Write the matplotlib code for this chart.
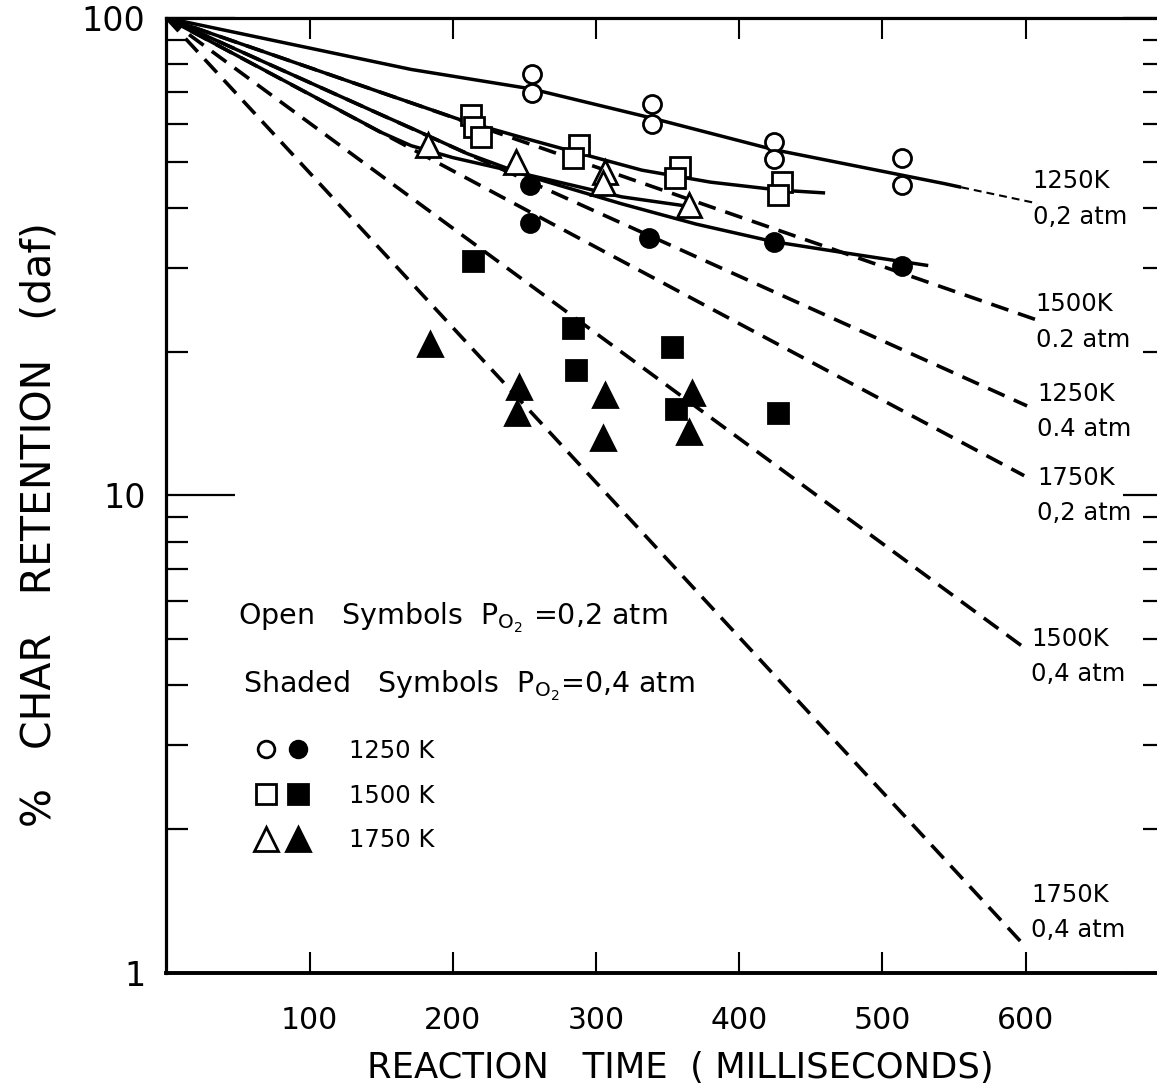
import matplotlib
matplotlib.use('Agg')
import matplotlib.pyplot as plt
from matplotlib.lines import Line2D
from matplotlib.legend_handler import HandlerTuple
from matplotlib.ticker import LogLocator, NullFormatter

# measured points, open symbols (P_O2 = 0.2 atm)
t_1250_02 = [255, 255, 339, 339, 424, 424, 514, 514]
r_1250_02 = [76.3, 69.6, 66.0, 60.0, 55.0, 50.6, 50.9, 44.7]
t_1500_02 = [213, 215, 220, 288, 284, 359, 355, 430, 427]
r_1500_02 = [62.6, 59.2, 56.3, 54.2, 50.9, 48.7, 46.2, 45.3, 42.6]
t_1750_02 = [183, 244, 306, 305, 365]
r_1750_02 = [54.2, 49.9, 47.6, 45.1, 40.6]

# shaded symbols (P_O2 = 0.4 atm)
t_1250_04 = [254, 254, 337, 424, 514]
r_1250_04 = [44.7, 37.2, 34.6, 34.0, 30.2]
t_1500_04 = [214, 284, 286, 353, 356, 427]
r_1500_04 = [31.0, 22.4, 18.3, 20.5, 15.2, 14.9]
t_1750_04 = [184, 246, 245, 306, 305, 367, 365]
r_1750_04 = [20.8, 16.9, 14.9, 16.2, 13.2, 16.4, 13.6]

# solid curves through the data
fit_t_1250_02 = [0, 171, 255, 339, 424, 543, 555]
fit_r_1250_02 = [100, 78, 71, 61.7, 53, 45, 44.2]
ext_t_1250_02 = [555, 608]
ext_r_1250_02 = [44.2, 40.9]
fit_t_1500_02 = [0, 150, 171, 208, 250, 280, 332, 380, 428, 460]
fit_r_1500_02 = [100, 69.8, 66.4, 60.8, 56.0, 52.9, 48.0, 45.3, 43.6, 43.0]
fit_t_1750_02 = [0, 150, 171, 200, 245, 318, 365]
fit_r_1750_02 = [100, 57.6, 54.0, 51.0, 47.5, 42.2, 40.3]
fit_t_1250_04 = [0, 150, 171, 210, 254, 318, 370, 424, 480, 532]
fit_r_1250_04 = [100, 62.7, 58.8, 52.0, 46.5, 40.8, 37.0, 34.0, 32.0, 30.3]

# dashed lines, straight on the log scale from 100 % at t = 0
pred_t_end = [608, 601, 599, 599, 597]
pred_r_end = [23.3, 15.4, 11.0, 4.8, 1.16]

# curve labels at the right
curve_labels = ['1250K\n0,2 atm', '1500K\n0.2 atm', '1250K\n0.4 atm',
                '1750K\n0,2 atm', '1500K\n0,4 atm', '1750K\n0,4 atm']
label_t = [605, 607, 608, 608, 604, 604]
label_r = [41.8, 23.1, 15.0, 10.0, 4.6, 1.34]

fig = plt.figure(figsize=(11.57, 10.87), dpi=100)
ax = fig.add_axes([0.1438, 0.1049, 0.8627, 0.8786])

k = 'black'
lw_solid = 2.5
lw_dash = 2.6

# dashed lines
for te, re in zip(pred_t_end, pred_r_end):
    ax.plot([0, te], [100, re], color=k, lw=lw_dash, dashes=(5, 2.8), zorder=2)

# solid fits
for ft, fr in [(fit_t_1250_02, fit_r_1250_02), (fit_t_1500_02, fit_r_1500_02),
               (fit_t_1750_02, fit_r_1750_02), (fit_t_1250_04, fit_r_1250_04)]:
    ax.plot(ft, fr, color=k, lw=lw_solid, solid_capstyle='butt', zorder=2.5)
ax.plot(ext_t_1250_02, ext_r_1250_02, color=k, lw=1.5, dashes=(3.8, 2.4), zorder=2)

# symbols
ms_c, ms_s, ms_t = 13, 15, 17
mew = 2.0
open_kw = dict(ls='none', mfc='white', mec=k, mew=mew, zorder=3)
fill_kw = dict(ls='none', mfc=k, mec=k, mew=mew, zorder=3)
ax.plot(t_1250_02, r_1250_02, marker='o', ms=ms_c, **open_kw)
ax.plot(t_1500_02, r_1500_02, marker='s', ms=ms_s, **open_kw)
ax.plot(t_1750_02, r_1750_02, marker='^', ms=ms_t, **open_kw)
ax.plot(t_1250_04, r_1250_04, marker='o', ms=ms_c, **fill_kw)
ax.plot(t_1500_04, r_1500_04, marker='s', ms=ms_s, **fill_kw)
ax.plot(t_1750_04, r_1750_04, marker='^', ms=ms_t, **fill_kw)

# curve labels
for lab, lt, lr in zip(curve_labels, label_t, label_r):
    ax.text(lt, lr, lab, fontsize=17.5, ha='left', va='center', linespacing=1.6,
            zorder=4)

# axes
ax.set_yscale('log')
ax.set_xlim(0, 697)
ax.set_ylim(1, 100)
ax.set_xticks([100, 200, 300, 400, 500, 600])
ax.set_xticklabels(['100', '200', '300', '400', '500', '600'])
ax.set_yticks([1, 10, 100])
ax.set_yticklabels(['1', '10', '100'])
ax.yaxis.set_minor_locator(LogLocator(base=10, subs=range(2, 10)))
ax.yaxis.set_minor_formatter(NullFormatter())

for s in ax.spines.values():
    s.set_linewidth(2.3)
ax.spines['bottom'].set_linewidth(2.8)

ax.tick_params(axis='x', which='major', direction='in', top=True, bottom=True,
               length=15, width=1.5, pad=24, labelsize=21.5)
ax.tick_params(axis='x', which='minor', bottom=False, top=False)
ax.tick_params(axis='y', which='major', direction='in', right=False,
               length=50, width=1.6, pad=15, labelsize=24)
ax.tick_params(axis='y', which='minor', direction='in', right=False,
               length=16, width=1.6)

# right-hand ticks
ax2 = ax.twinx()
ax2.set_yscale('log')
ax2.set_ylim(1, 100)
ax2.set_yticks([1, 10, 100])
ax2.yaxis.set_minor_locator(LogLocator(base=10, subs=range(2, 10)))
ax2.yaxis.set_major_formatter(NullFormatter())
ax2.yaxis.set_minor_formatter(NullFormatter())
ax2.tick_params(axis='y', which='major', direction='in', length=30, width=1.6)
ax2.tick_params(axis='y', which='minor', direction='in', length=16, width=1.6)
for s in ax2.spines.values():
    s.set_visible(False)

ax.set_xlabel('REACTION   TIME  ( MILLISECONDS)', fontsize=25.5)
ax.xaxis.set_label_coords(0.515, -0.0995)
ax.xaxis.label.set_va('center')
ax.set_ylabel('%   CHAR   RETENTION   (daf)', fontsize=29.5)
ax.yaxis.set_label_coords(-0.127, 0.47)
ax.yaxis.label.set_va('center')

# key
ax.text(0.072, 0.372, r'Open   Symbols  P$_{\mathregular{O_2}}$ =0,2 atm',
        transform=ax.transAxes, fontsize=20.5, ha='left', va='center')
ax.text(0.077, 0.301, r'Shaded   Symbols  P$_{\mathregular{O_2}}$=0,4 atm',
        transform=ax.transAxes, fontsize=20.5, ha='left', va='center')

h = []
for m, ms in [('o', ms_c - 1), ('s', ms_s), ('^', ms_t)]:
    h.append((Line2D([], [], marker=m, ms=ms, ls='none', mfc='white', mec=k, mew=mew),
              Line2D([], [], marker=m, ms=ms, ls='none', mfc=k, mec=k, mew=mew)))
ax.legend(h, ['1250 K', '1500 K', '1750 K'], handler_map={tuple: HandlerTuple(ndivide=None, pad=0.3)},
          loc='upper left', bbox_to_anchor=(0.088, 0.245), frameon=False,
          fontsize=17.5, handlelength=2.3, handletextpad=1.6, labelspacing=0.85,
          borderaxespad=0, borderpad=0)

fig.savefig('out.png', dpi=100)
